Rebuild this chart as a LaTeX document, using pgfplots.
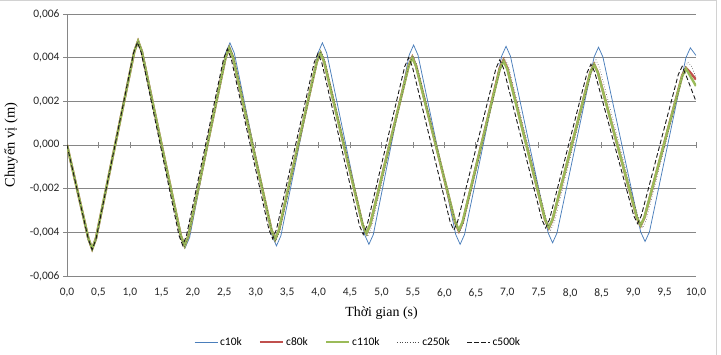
\documentclass[border=0pt]{standalone}
\usepackage{pgfplots}
\pgfplotsset{compat=1.18}
\usepackage{fontspec}
\setmainfont{Carlito}
\newfontfamily\tnr{Liberation Serif}
\definecolor{cblue}{RGB}{74,126,187}
\definecolor{cred}{RGB}{192,80,77}
\definecolor{cgreen}{RGB}{155,187,89}
\definecolor{cgrid}{RGB}{134,134,134}
\begin{document}
\begin{tikzpicture}
\useasboundingbox (0,0) rectangle (721bp,355bp);
\draw[gray!35, line width=0.8bp] (0,354.5bp) -- (716.5bp,354.5bp) -- (716.5bp,0);
% background axis: zero line with ticks
\begin{axis}[
  at={(67bp,79bp)}, anchor=south west, scale only axis,
  width=629bp, height=262bp,
  xmin=0, xmax=10, ymin=-0.006, ymax=0.006,
  axis x line=middle, axis y line=none,
  axis line style={draw=cgrid, line width=0.75bp, -},
  xtick={0.5,1,...,10}, xticklabels={},
  xtick align=center, major tick length=6.5bp,
  xtick style={draw=cgrid, line width=0.75bp},
  ytick=\empty,
]
\addplot[draw=none] coordinates {(0,0)};
\end{axis}
\begin{axis}[
  at={(67bp,79bp)}, anchor=south west, scale only axis,
  width=629bp, height=262bp,
  xmin=0, xmax=10, ymin=-0.006, ymax=0.006,
  axis x line*=bottom, axis y line*=left,
  axis line style={draw=cgrid, line width=0.75bp, -},
  xtick={0,0.5,...,10},
  xticklabels={{0,0},{0,5},{1,0},{1,5},{2,0},{2,5},{3,0},{3,5},{4,0},{4,5},{5,0},{5,5},{6,0},{6,5},{7,0},{7,5},{8,0},{8,5},{9,0},{9,5},{10,0}},
  xtick style={draw=none},
  xticklabel style={font=\fontsize{11.5}{13}\selectfont, text=black!85, yshift=-9bp},
  ytick={-0.006,-0.004,-0.002,0,0.002,0.004,0.006},
  yticklabels={{-0,006},{-0,004},{-0,002},{0,000},{0,002},{0,004},{0,006}},
  ytick align=outside, ytick style={draw=cgrid, line width=0.75bp},
  major tick length=4bp,
  yticklabel style={font=\fontsize{11.5}{13}\selectfont, text=black!85},
  scaled y ticks=false,
  ymajorgrids, grid style={draw=cgrid, line width=0.75bp},
  xlabel={Thời gian (s)}, ylabel={Chuyển vị (m)},
  xlabel style={font=\tnr\fontsize{14}{16}\selectfont, at={(axis description cs:0.5,-0.141)}, anchor=center},
  ylabel style={font=\tnr\fontsize{14.5}{16}\selectfont, at={(axis description cs:-0.089,0.5)}, anchor=center},
  legend columns=5,
  legend style={at={(axis description cs:0.463,-0.252)}, anchor=center, draw=none, fill=none,
    font=\fontsize{11.5}{13}\selectfont, /tikz/every even column/.append style={column sep=15bp}},
  legend image code/.code={\draw[#1] (0bp,0bp) -- (23bp,0bp);},
]
\addplot[cblue, line width=0.75bp] coordinates {
(0,0)
(0.33,-0.0043) (0.40,-0.00478) (0.47,-0.0043)
(1.06,0.0043) (1.13,0.00478) (1.20,0.0043)
(1.81,-0.00423) (1.88,-0.0047) (1.95,-0.00423)
(2.52,0.00421) (2.59,0.00468) (2.66,0.00421)
(3.26,-0.00416) (3.33,-0.00462) (3.40,-0.00416)
(3.99,0.00421) (4.06,0.00468) (4.13,0.00421)
(4.73,-0.0041) (4.80,-0.00455) (4.87,-0.0041)
(5.44,0.00412) (5.51,0.00458) (5.58,0.00412)
(6.18,-0.0041) (6.25,-0.00455) (6.32,-0.0041)
(6.91,0.00407) (6.98,0.00452) (7.05,0.00407)
(7.65,-0.00403) (7.72,-0.00448) (7.79,-0.00403)
(8.38,0.00403) (8.45,0.00448) (8.52,0.00403)
(9.12,-0.00398) (9.19,-0.00442) (9.26,-0.00398)
(9.84,0.0040) (9.91,0.00445) (10.0,0.0041)
};
\addlegendentry{c10k}
\addplot[cred, line width=2.4bp] coordinates {
(0,0)
(0.34,-0.00428) (0.40,-0.00476) (0.46,-0.00428)
(1.07,0.00428) (1.13,0.00476) (1.19,0.00428)
(1.81,-0.00416) (1.87,-0.00462) (1.93,-0.00416)
(2.52,0.00400) (2.58,0.00445) (2.64,0.00400)
(3.25,-0.00389) (3.31,-0.00432) (3.37,-0.00389)
(3.97,0.00380) (4.03,0.00422) (4.09,0.00380)
(4.70,-0.00365) (4.76,-0.00405) (4.82,-0.00365)
(5.43,0.00362) (5.49,0.00403) (5.55,0.00362)
(6.17,-0.00354) (6.23,-0.00394) (6.29,-0.00354)
(6.88,0.00352) (6.94,0.0039) (7.00,0.00352)
(7.60,-0.00342) (7.66,-0.0038) (7.72,-0.00342)
(8.32,0.00333) (8.38,0.0037) (8.44,0.00333)
(9.06,-0.00333) (9.12,-0.0037) (9.18,-0.00333)
(9.78,0.00318) (9.84,0.00353) (9.90,0.00335) (10.0,0.0030)
};
\addlegendentry{c80k}
\addplot[cgreen, line width=2.4bp] coordinates {
(0,0)
(0.34,-0.00428) (0.40,-0.00476) (0.46,-0.00428)
(1.07,0.00428) (1.13,0.00476) (1.19,0.00428)
(1.81,-0.00416) (1.87,-0.00462) (1.93,-0.00416)
(2.52,0.00400) (2.58,0.00445) (2.64,0.00400)
(3.25,-0.00389) (3.31,-0.00432) (3.37,-0.00389)
(3.97,0.00380) (4.03,0.00422) (4.09,0.00380)
(4.70,-0.00365) (4.76,-0.00405) (4.82,-0.00365)
(5.43,0.00360) (5.49,0.00400) (5.55,0.00360)
(6.17,-0.00351) (6.23,-0.00390) (6.29,-0.00351)
(6.88,0.00347) (6.94,0.00385) (7.00,0.00347)
(7.60,-0.00340) (7.66,-0.00378) (7.72,-0.00340)
(8.32,0.00331) (8.38,0.00368) (8.44,0.00331)
(9.06,-0.00331) (9.12,-0.00368) (9.18,-0.00331)
(9.78,0.00315) (9.84,0.00350) (9.90,0.00320) (10.0,0.0027)
};
\addlegendentry{c110k}
\addplot[black!70, line width=0.6bp, dotted] coordinates {
(0,0)
(0.34,-0.0043) (0.40,-0.00477) (0.46,-0.0043)
(1.07,0.0043) (1.13,0.00477) (1.19,0.0043)
(1.81,-0.00419) (1.87,-0.00465) (1.93,-0.00419)
(2.53,0.00405) (2.59,0.0045) (2.65,0.00405)
(3.26,-0.00396) (3.32,-0.0044) (3.38,-0.00396)
(3.98,0.00387) (4.04,0.0043) (4.10,0.00387)
(4.72,-0.00378) (4.78,-0.0042) (4.84,-0.00378)
(5.44,0.00369) (5.50,0.0041) (5.56,0.00369)
(6.18,-0.0036) (6.24,-0.0040) (6.30,-0.0036)
(6.90,0.0036) (6.96,0.0040) (7.02,0.0036)
(7.63,-0.00351) (7.69,-0.0039) (7.75,-0.00351)
(8.35,0.00351) (8.41,0.0039) (8.47,0.00351)
(9.09,-0.00342) (9.15,-0.0038) (9.21,-0.00342)
(9.81,0.00342) (9.87,0.0038) (9.93,0.0036) (10.0,0.0031)
};
\addlegendentry{c250k}
\addplot[black!90, line width=0.9bp, dash pattern=on 4.5bp off 2.5bp] coordinates {
(0,0)
(0.34,-0.00432) (0.40,-0.0048) (0.46,-0.00432)
(1.06,0.00423) (1.12,0.0047) (1.18,0.00423)
(1.78,-0.00414) (1.84,-0.0046) (1.90,-0.00414)
(2.49,0.00396) (2.55,0.0044) (2.61,0.00396)
(3.21,-0.00387) (3.27,-0.0043) (3.33,-0.00387)
(3.93,0.00378) (3.99,0.0042) (4.05,0.00378)
(4.65,-0.00369) (4.71,-0.0041) (4.77,-0.00369)
(5.37,0.0036) (5.43,0.0040) (5.49,0.0036)
(6.09,-0.00351) (6.15,-0.0039) (6.21,-0.00351)
(6.82,0.00351) (6.88,0.0039) (6.94,0.00351)
(7.55,-0.00342) (7.61,-0.0038) (7.67,-0.00342)
(8.27,0.00333) (8.33,0.0037) (8.39,0.00333)
(9.01,-0.00324) (9.07,-0.0036) (9.13,-0.00324)
(9.72,0.00324) (9.78,0.0036) (9.84,0.0032) (10.0,0.0020)
};
\addlegendentry{c500k}
\end{axis}
\end{tikzpicture}
\end{document}
